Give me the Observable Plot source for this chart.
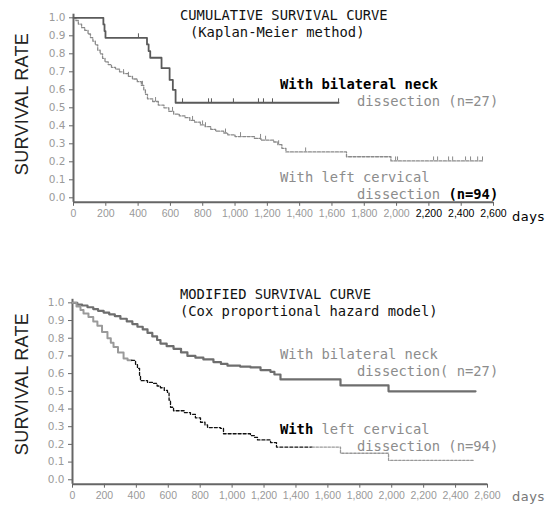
<!DOCTYPE html>
<html><head><meta charset="utf-8">
<script src="https://cdn.jsdelivr.net/npm/d3@7"></script>
<script src="https://cdn.jsdelivr.net/npm/@observablehq/plot@0.6"></script>
<style>
body{margin:0;background:#fff;width:555px;height:512px;position:relative;overflow:hidden}
.t{position:absolute;font-family:"DejaVu Sans Mono","Liberation Mono",monospace;font-size:13.8px;white-space:pre;line-height:1;transform:translateY(-50%);color:#111}
.g{color:#8c8c8c}
.b{font-weight:bold;color:#000}
.yl{position:absolute;font-family:"Liberation Sans",Arial,sans-serif;font-size:18px;letter-spacing:0.3px;white-space:pre;transform:translate(-50%,-50%) rotate(-90deg);color:#222}
.days{position:absolute;font-family:"DejaVu Sans",sans-serif;font-size:13px;transform:translateY(-50%);line-height:1;letter-spacing:0.5px}
#chartTop,#chartBot{position:absolute;left:0}
</style></head><body>
<div id="chartTop" style="top:0"></div>
<div id="chartBot" style="top:232px"></div>

<div class="yl" style="left:22px;top:104px">SURVIVAL RATE</div>
<div class="yl" style="left:22px;top:384px">SURVIVAL RATE</div>

<div class="t" style="left:180px;top:16px">CUMULATIVE SURVIVAL CURVE</div>
<div class="t" style="left:190px;top:33px">(Kaplan-Meier method)</div>
<div class="t b" style="left:280px;top:85px">With bilateral neck</div>
<div class="t g" style="left:357px;top:102px">dissection (n=27)</div>
<div class="t g" style="left:280px;top:178px">With left cervical</div>
<div class="t" style="left:357px;top:195px"><span class="g">dissection </span><span class="b">(n=94)</span></div>
<div class="days" style="left:512px;top:216px;color:#000">days</div>

<div class="t" style="left:180px;top:295px">MODIFIED SURVIVAL CURVE</div>
<div class="t" style="left:180px;top:312px">(Cox proportional hazard model)</div>
<div class="t g" style="left:280px;top:355px">With bilateral neck</div>
<div class="t g" style="left:357px;top:372px">dissection( n=27)</div>
<div class="t" style="left:280px;top:430px"><span class="b">With</span><span class="g"> left cervical</span></div>
<div class="t g" style="left:357px;top:447px">dissection (n=94)</div>
<div class="days" style="left:512px;top:496px;color:#777">days</div>

<script>
// ---- tick labels ----
const xTicks = [0,200,400,600,800,1000,1200,1400,1600,1800,2000,2200,2400,2600];
const yTicks = [0,0.1,0.2,0.3,0.4,0.5,0.6,0.7,0.8,0.9,1.0];

// ---- Kaplan-Meier: bilateral neck dissection (n=27) ----
const kmBilatDays = [0,185,192,198,455,465,475,545,595,615,632,1641];
const kmBilatRate = [1.0,0.963,0.926,0.889,0.852,0.815,0.778,0.72,0.655,0.60,0.528,0.528];
const kmBilatCensor = [402,675,836,854,990,1145,1176,1232,1641];

// ---- Kaplan-Meier: left cervical dissection (n=94) ----
const kmLeftDays = [0,15,30,50,70,90,105,120,135,150,165,180,195,215,235,260,285,310,340,365,395,420,435,445,458,490,525,560,590,620,655,690,720,750,785,815,850,880,930,955,1000,1120,1160,1240,1265,1290,1315,1690,1965,2532];
const kmLeftRate = [1.0,0.985,0.965,0.945,0.93,0.91,0.89,0.87,0.85,0.82,0.80,0.775,0.755,0.74,0.725,0.715,0.70,0.69,0.675,0.66,0.645,0.625,0.60,0.575,0.55,0.535,0.515,0.50,0.48,0.465,0.455,0.445,0.43,0.42,0.405,0.395,0.38,0.37,0.36,0.35,0.34,0.33,0.32,0.31,0.295,0.275,0.255,0.228,0.205,0.205];
const kmLeftCensor = [310,340,427,508,613,737,799,817,941,1034,1158,1189,1270,1437,1994,2006,2229,2254,2322,2347,2427,2458,2502,2532];

// ---- Cox model: bilateral ----
const coxBilatDays = [0,30,60,94,130,160,195,230,265,300,340,375,407,440,470,500,530,551,590,633,680,720,770,820,883,930,971,1050,1115,1178,1240,1265,1303,1679,1980,2525];
const coxBilatRate = [1.0,0.99,0.985,0.975,0.965,0.955,0.945,0.935,0.925,0.91,0.895,0.88,0.865,0.85,0.83,0.81,0.79,0.77,0.755,0.74,0.72,0.70,0.69,0.68,0.665,0.655,0.645,0.64,0.635,0.62,0.61,0.595,0.567,0.533,0.50,0.50];

// ---- Cox model: left cervical ----
const coxLeftDays = [0,25,50,69,100,130,156,185,219,240,257,285,320,345,395,407,420,426,470,507,530,551,575,595,605,614,633,700,739,770,802,830,846,927,946,1115,1140,1159,1241,1278,1679,1980,2512];
const coxLeftRate = [1.0,0.98,0.96,0.94,0.92,0.895,0.87,0.835,0.80,0.775,0.75,0.72,0.685,0.675,0.65,0.63,0.59,0.56,0.55,0.545,0.53,0.52,0.505,0.49,0.45,0.41,0.39,0.38,0.37,0.35,0.325,0.31,0.295,0.29,0.26,0.25,0.24,0.225,0.21,0.185,0.15,0.11,0.11];
const coxLeftBreaks = [370,1500]; // where the printed line style changes

function stepAt(days, rates, d){ let r = rates[0]; for (let i=0;i<days.length;i++) if (days[i] <= d) r = rates[i]; return r; }
function series(days, rates){ return days.map((d,i)=>({day:d, rate:rates[i]})); }
function censor(days, rates, cd){ return cd.map(d=>({day:d, y1:stepAt(days,rates,d), y2:stepAt(days,rates,d)+0.022})); }
function segment(days, rates, from, to){
  const pts = [{day:from, rate:stepAt(days,rates,from)}];
  days.forEach((d,i)=>{ if (d>from && d<to) pts.push({day:d, rate:rates[i]}); });
  const last = Math.min(to, days[days.length-1]);
  pts.push({day:last, rate:stepAt(days,rates,last)});
  return pts;
}

const yMin = -0.025, yMax = 1.02;
function axes(blackFrom){
  const gray = xTicks.filter(d => d < blackFrom), black = xTicks.filter(d => d >= blackFrom);
  const common = {label:null, tickSize:4, tickPadding:3, tickFormat:d3.format(","), fontSize:10.5, fontFamily:"Liberation Sans, Arial, sans-serif", stroke:"#666"};
  const out = [
    Plot.axisY(yTicks, {label:null, tickSize:4, tickPadding:4, tickFormat:d3.format(".1f"), fill:"#9a9a9a", stroke:"#666", fontSize:10.5, fontFamily:"DejaVu Sans, sans-serif"}),
    Plot.axisX(gray, {...common, fill:"#999"}),
    Plot.ruleX([0], {stroke:"#666", strokeWidth:2}),
    Plot.ruleY([yMin], {stroke:"#666", strokeWidth:2})
  ];
  if (black.length) out.push(Plot.axisX(black, {...common, fill:"#000"}));
  return out;
}

const chartTop = Plot.plot({
  width:555, height:232, marginTop:13.7, marginBottom:30.2, marginLeft:73, marginRight:62,
  x:{domain:[0,2600], axis:null, label:null}, y:{domain:[yMin,yMax], axis:null, label:null},
  style:{background:"transparent", overflow:"visible"},
  marks:[
    ...axes(2200),
    Plot.line(series(kmLeftDays,kmLeftRate), {x:"day", y:"rate", curve:"step-after", stroke:"#8a8a8a", strokeWidth:1.3, strokeDasharray:"3,1.5"}),
    Plot.ruleX(censor(kmLeftDays,kmLeftRate,kmLeftCensor), {x:"day", y1:"y1", y2:"y2", stroke:"#8a8a8a", strokeWidth:1}),
    Plot.line(series(kmBilatDays,kmBilatRate), {x:"day", y:"rate", curve:"step-after", stroke:"#5a5a5a", strokeWidth:1.8}),
    Plot.ruleX(censor(kmBilatDays,kmBilatRate,kmBilatCensor), {x:"day", y1:"y1", y2:"y2", stroke:"#5a5a5a", strokeWidth:1})
  ]
});
document.getElementById("chartTop").appendChild(chartTop);

const chartBot = Plot.plot({
  width:555, height:280, marginTop:66.8, marginBottom:28.3, marginLeft:72, marginRight:68,
  x:{domain:[0,2600], axis:null, label:null}, y:{domain:[yMin,yMax], axis:null, label:null},
  style:{background:"transparent", overflow:"visible"},
  marks:[
    ...axes(99999),
    Plot.line(series(coxBilatDays,coxBilatRate), {x:"day", y:"rate", curve:"step-after", stroke:"#6e6e6e", strokeWidth:2.2}),
    Plot.line(segment(coxLeftDays,coxLeftRate,0,coxLeftBreaks[0]), {x:"day", y:"rate", curve:"step-after", stroke:"#9a9a9a", strokeWidth:2}),
    Plot.line(segment(coxLeftDays,coxLeftRate,coxLeftBreaks[0],coxLeftBreaks[1]), {x:"day", y:"rate", curve:"step-after", stroke:"#111", strokeWidth:1.3, strokeDasharray:"3,2"}),
    Plot.line(segment(coxLeftDays,coxLeftRate,coxLeftBreaks[1],99999), {x:"day", y:"rate", curve:"step-after", stroke:"#999", strokeWidth:1.3, strokeDasharray:"2.5,1.5"})
  ]
});
document.getElementById("chartBot").appendChild(chartBot);
</script>
</body></html>
